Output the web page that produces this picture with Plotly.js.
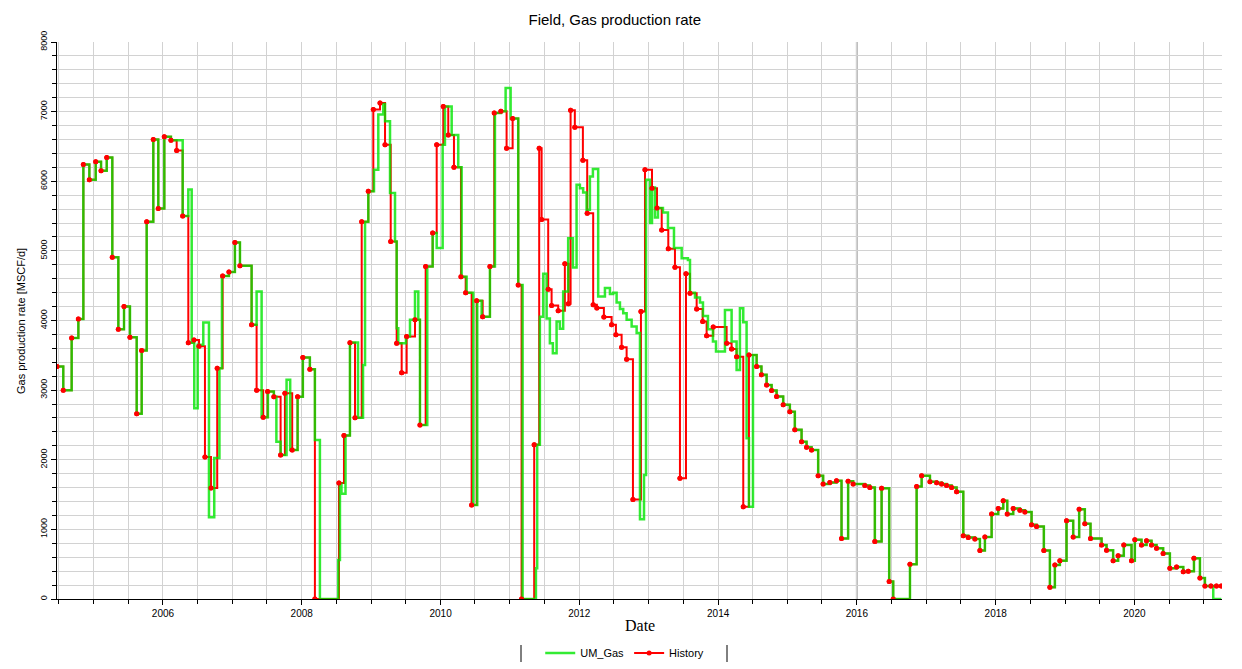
<!DOCTYPE html>
<html>
<head>
<meta charset="utf-8">
<script src="https://cdn.plot.ly/plotly-3.0.1.min.js"></script>
<style>
  html, body { margin: 0; padding: 0; background: #ffffff; }
  #chart { width: 1242px; height: 669px; }
</style>
</head>
<body>
<div id="chart"></div>
<script>
// ---- History (observed) gas rate, step start times as decimal years ----
const histYear = [
  2004.473, 2004.563, 2004.684, 2004.780, 2004.852, 2004.938,
  2005.030, 2005.107, 2005.189, 2005.269, 2005.356, 2005.438, 2005.524, 2005.621, 2005.693, 2005.765, 2005.860, 2005.932,
  2006.019, 2006.115, 2006.197, 2006.284, 2006.365, 2006.447, 2006.519, 2006.605, 2006.692, 2006.782, 2006.860, 2006.951,
  2007.037, 2007.110, 2007.278, 2007.350, 2007.445, 2007.509, 2007.599, 2007.696, 2007.758, 2007.863, 2007.941,
  2008.017, 2008.118, 2008.190, 2008.536, 2008.608, 2008.694, 2008.767, 2008.863, 2008.958,
  2009.030, 2009.127, 2009.199, 2009.281, 2009.367, 2009.439, 2009.511, 2009.631, 2009.703, 2009.785, 2009.886, 2009.944,
  2010.039, 2010.111, 2010.193, 2010.294, 2010.362, 2010.448, 2010.520, 2010.607, 2010.712, 2010.774, 2010.870, 2010.952,
  2011.039, 2011.120, 2011.168, 2011.350, 2011.422, 2011.457, 2011.552, 2011.601, 2011.696, 2011.792, 2011.843, 2011.875, 2011.936,
  2012.052, 2012.114, 2012.200, 2012.253, 2012.354, 2012.465, 2012.527, 2012.609, 2012.681, 2012.772, 2012.887, 2012.945,
  2013.046, 2013.118, 2013.186, 2013.281, 2013.377, 2013.449, 2013.536, 2013.594, 2013.690, 2013.777, 2013.834, 2013.929,
  2014.122, 2014.194, 2014.266, 2014.362, 2014.444, 2014.555, 2014.624, 2014.699, 2014.771, 2014.843, 2014.938,
  2015.034, 2015.106, 2015.203, 2015.275, 2015.347, 2015.442, 2015.514, 2015.611, 2015.707, 2015.779, 2015.874, 2015.947,
  2016.115, 2016.187, 2016.259, 2016.356, 2016.465, 2016.523, 2016.764, 2016.860, 2016.932,
  2017.052, 2017.148, 2017.220, 2017.292, 2017.364, 2017.436, 2017.532, 2017.604, 2017.700, 2017.772, 2017.844, 2017.941,
  2018.036, 2018.108, 2018.166, 2018.252, 2018.349, 2018.421, 2018.517, 2018.589, 2018.694, 2018.781, 2018.853, 2018.925,
  2019.021, 2019.117, 2019.203, 2019.285, 2019.367, 2019.526, 2019.598, 2019.693, 2019.765, 2019.847, 2019.958,
  2020.006, 2020.102, 2020.174, 2020.246, 2020.318, 2020.413, 2020.510, 2020.606, 2020.702, 2020.774, 2020.856, 2020.942,
  2021.014, 2021.100, 2021.180, 2021.250
];
const histRate = [
  3340, 3000, 3750, 4020, 6240, 6020,
  6280, 6150, 6340, 4910, 3875, 4200, 3760, 2660, 3570, 5420, 6600, 5610,
  6640, 6590, 6440, 5500, 3680, 3720, 3630, 2040, 1595, 3315, 4640, 4695,
  5120, 4785, 3940, 3000, 2610, 2980, 2905, 2070, 2955, 2140, 2905,
  3470, 3300, 0, 1665, 2350, 3680, 2605, 5420, 5855,
  7030, 7125, 6525, 5135, 3675, 3250, 3770, 4010, 2500, 4775, 5255, 6525,
  7075, 6665, 6200, 4630, 4400, 1350, 4285, 4055, 4775, 6980, 7005, 6475,
  6900, 4510, 0, 2215, 6475, 5450, 4450, 4215, 4140, 4815, 4240, 7020, 6775,
  6300, 5540, 4225, 4180, 4050, 3940, 3795, 3615, 3445, 1430, 4130, 6165,
  5900, 5615, 5300, 5030, 4765, 1735, 4670, 4390, 4165, 3985, 3780, 3905,
  3675, 3590, 3480, 1325, 3505, 3340, 3220, 3075, 2995, 2910, 2790,
  2690, 2430, 2260, 2180, 2140, 1770, 1650, 1675, 1700, 870, 1690, 1650,
  1630, 1600, 825, 1590, 250, 0, 500, 1615, 1770,
  1685, 1670, 1650, 1630, 1600, 1540, 910, 885, 860, 695, 890, 1220,
  1300, 1410, 1220, 1300, 1275, 1250, 1065, 1040, 695, 170, 490, 550,
  1125, 890, 1290, 1080, 870, 775, 700, 550, 620, 775, 550,
  850, 775, 835, 775, 730, 655, 440, 460, 390, 400, 585, 300,
  185, 185, 185, 185
];

// ---- UM_Gas (simulated) gas rate ----
const simYear = [
  2004.473, 2004.563, 2004.684, 2004.780, 2004.852, 2004.938,
  2005.030, 2005.107, 2005.189, 2005.269, 2005.356, 2005.438, 2005.524, 2005.621, 2005.693, 2005.765, 2005.860, 2005.932,
  2006.019, 2006.115, 2006.284, 2006.365, 2006.414, 2006.451, 2006.500, 2006.581, 2006.663, 2006.739, 2006.814, 2006.850, 2006.951,
  2007.037, 2007.110, 2007.278, 2007.350, 2007.422, 2007.513, 2007.599, 2007.635, 2007.696, 2007.782, 2007.834, 2007.941,
  2008.017, 2008.118, 2008.190, 2008.262, 2008.526, 2008.550, 2008.572, 2008.630, 2008.694, 2008.810, 2008.882, 2008.911, 2008.958,
  2009.040, 2009.102, 2009.174, 2009.199, 2009.271, 2009.343, 2009.367, 2009.390, 2009.501, 2009.559, 2009.631, 2009.679, 2009.703, 2009.808, 2009.886, 2009.944,
  2010.030, 2010.063, 2010.160, 2010.255, 2010.304, 2010.376, 2010.471, 2010.529, 2010.592, 2010.712, 2010.784, 2010.870, 2010.938,
  2011.010, 2011.120, 2011.183, 2011.375, 2011.393, 2011.432, 2011.480, 2011.529, 2011.576, 2011.619, 2011.673, 2011.720, 2011.768, 2011.840, 2011.908, 2011.961,
  2012.009, 2012.056, 2012.105, 2012.153, 2012.196, 2012.272, 2012.369, 2012.441, 2012.488, 2012.537, 2012.585, 2012.632, 2012.681, 2012.753, 2012.825, 2012.873, 2012.931, 2012.960,
  2013.018, 2013.046, 2013.089, 2013.132, 2013.204, 2013.276, 2013.363, 2013.474, 2013.564, 2013.594, 2013.666, 2013.738, 2013.781, 2013.853, 2013.925, 2013.969,
  2014.098, 2014.194, 2014.266, 2014.314, 2014.362, 2014.410, 2014.444, 2014.502, 2014.555, 2014.624, 2014.699, 2014.771, 2014.843, 2014.938,
  2015.034, 2015.106, 2015.203, 2015.275, 2015.347, 2015.442, 2015.514, 2015.611, 2015.707, 2015.779, 2015.874, 2015.947,
  2016.115, 2016.187, 2016.259, 2016.356, 2016.465, 2016.523, 2016.764, 2016.860, 2016.932,
  2017.052, 2017.148, 2017.220, 2017.292, 2017.364, 2017.436, 2017.532, 2017.604, 2017.700, 2017.772, 2017.844, 2017.941,
  2018.036, 2018.108, 2018.166, 2018.252, 2018.349, 2018.421, 2018.517, 2018.589, 2018.694, 2018.781, 2018.853, 2018.925,
  2019.021, 2019.117, 2019.203, 2019.285, 2019.367, 2019.526, 2019.598, 2019.693, 2019.765, 2019.847, 2019.958,
  2020.006, 2020.102, 2020.174, 2020.246, 2020.318, 2020.413, 2020.510, 2020.606, 2020.702, 2020.774, 2020.856, 2020.942,
  2021.014, 2021.134, 2021.250
];
const simRate = [
  3340, 3000, 3750, 4020, 6240, 6020,
  6280, 6150, 6340, 4910, 3875, 4200, 3760, 2660, 3570, 5420, 6600, 5610,
  6640, 6590, 5500, 5880, 3680, 2740, 3650, 3970, 1175, 2025, 3315, 4640, 4695,
  5120, 4785, 3940, 4415, 2610, 2980, 2905, 2260, 2070, 3150, 2140, 2905,
  3470, 3300, 2285, 0, 560, 1660, 1510, 2350, 3685, 2605, 3360, 5420, 5855,
  6165, 6960, 7110, 6860, 5830, 5135, 3890, 3675, 3770, 4010, 4415, 4010, 2500, 4775, 5255, 5040,
  6525, 7075, 6665, 6200, 4630, 4400, 1350, 4285, 4055, 4775, 6980, 7005, 7340,
  6900, 4510, 0, 440, 2215, 4055, 4670, 4030, 3675, 3530, 3985, 3880, 4415, 5180, 4760, 5950,
  5900, 5840, 5590, 6070, 6175, 4345, 4465, 4380, 4400, 4260, 4165, 4105, 4010, 3915, 3820, 1145, 1780, 6020,
  5400, 5910, 5480, 5615, 5550, 5330, 5040, 4895, 4870, 4400, 4330, 4260, 4065, 3875, 3700, 3555,
  4150, 3700, 3290, 4175, 3975, 2310, 1325, 3505, 3340, 3220, 3075, 2995, 2910, 2790,
  2690, 2430, 2260, 2180, 2140, 1770, 1650, 1675, 1700, 870, 1690, 1650,
  1630, 1600, 825, 1590, 250, 0, 500, 1615, 1770,
  1685, 1670, 1650, 1630, 1600, 1540, 910, 885, 860, 695, 890, 1220,
  1300, 1410, 1220, 1300, 1275, 1250, 1065, 1040, 695, 170, 490, 550,
  1125, 890, 1290, 1080, 870, 775, 700, 550, 620, 775, 550,
  850, 775, 835, 775, 730, 655, 440, 460, 390, 400, 585, 300,
  185, 0, 0
];

const xStartYear = 2004.473;
const xEndYear = 2021.26;
const yMax = 8000;

function yearToDate(t) {
  const y = Math.floor(t);
  const a = Date.UTC(y, 0, 1), b = Date.UTC(y + 1, 0, 1);
  const d = new Date(a + (t - y) * (b - a));
  return d.toISOString().slice(0, 19).replace('T', ' ');
}

const histX = histYear.map(yearToDate);
const simX = simYear.map(yearToDate);

const FONT = 'Liberation Sans, Arial, sans-serif';

const traces = [
  {
    name: 'History', x: histX, y: histRate, type: 'scatter', mode: 'lines+markers',
    line: { shape: 'hv', color: 'rgb(255,0,0)', width: 2 },
    marker: { color: 'rgb(255,0,0)', size: 5 },
    legendrank: 2, hoverinfo: 'x+y'
  },
  {
    name: 'UM_Gas', x: simX, y: simRate, type: 'scatter', mode: 'lines',
    line: { shape: 'hv', color: 'rgba(0,230,0,0.8)', width: 2.5 },
    legendrank: 1, hoverinfo: 'x+y'
  },
  {
    name: 'History', x: histX, y: histRate, type: 'scatter', mode: 'markers',
    marker: { color: 'rgb(255,0,0)', size: 5 },
    showlegend: false, hoverinfo: 'skip'
  }
];

const L = 57, R = 1222, T = 42, B = 599;
const pw = R - L, ph = B - T;
const px = (x) => (x - L) / pw;
const py = (y) => (B - y) / ph;

const layout = {
  width: 1242, height: 669,
  margin: { l: L, r: 1242 - R, t: T, b: 669 - B },
  paper_bgcolor: '#ffffff', plot_bgcolor: '#ffffff',
  font: { family: FONT, color: '#000000' },
  title: {
    text: 'Field, Gas production rate',
    font: { family: FONT, size: 15, color: '#000000' },
    xref: 'container', x: 0.495, xanchor: 'center',
    yref: 'container', y: 1 - 20 / 669, yanchor: 'middle'
  },
  xaxis: {
    type: 'date',
    range: [yearToDate(xStartYear), yearToDate(xEndYear)],
    showline: true, linecolor: '#000000', linewidth: 1,
    ticks: 'outside', ticklen: 5, tickcolor: '#000000',
    dtick: 'M24', tick0: '2006-01-01', tickformat: '%Y',
    tickfont: { family: FONT, size: 10, color: '#000000' },
    showgrid: true, gridcolor: '#d2d2d2', gridwidth: 1,
    minor: { dtick: 'M6', showgrid: true, gridcolor: '#d2d2d2', ticks: 'outside', ticklen: 4, tickcolor: '#000000' },
    zeroline: false, fixedrange: true, automargin: false
  },
  yaxis: {
    range: [0, yMax],
    showline: true, linecolor: '#000000', linewidth: 1,
    ticks: 'outside', ticklen: 5, tickcolor: '#000000',
    dtick: 1000, tick0: 0, tickangle: -90,
    tickfont: { family: FONT, size: 9, color: '#000000' },
    showgrid: true, gridcolor: '#d2d2d2', gridwidth: 1,
    minor: { dtick: 200, showgrid: true, gridcolor: '#d2d2d2', ticks: 'outside', ticklen: 4, tickcolor: '#000000' },
    zeroline: false, fixedrange: true, automargin: false
  },
  showlegend: true,
  legend: {
    orientation: 'h', xref: 'container', x: 0.503, xanchor: 'center',
    yref: 'container', y: (669 - 653) / 669, yanchor: 'middle',
    font: { family: FONT, size: 11, color: '#000000' },
    bgcolor: 'rgba(0,0,0,0)', traceorder: 'normal'
  },
  annotations: [
    {
      text: 'Date', xref: 'paper', yref: 'paper', x: 0.5, y: py(625),
      xanchor: 'center', yanchor: 'middle', showarrow: false,
      font: { family: 'Liberation Serif, Times New Roman, serif', size: 16, color: '#000000' }
    },
    {
      text: 'Gas production rate [MSCF/d]', xref: 'paper', yref: 'paper', x: px(21), y: py(321),
      xanchor: 'center', yanchor: 'middle', textangle: -90, showarrow: false,
      font: { family: FONT, size: 11, color: '#000000' }
    }
  ],
  shapes: [
    { type: 'line', xref: 'x', yref: 'paper', x0: '2016-01-01', x1: '2016-01-01', y0: 0, y1: 1,
      line: { color: '#b4b4b4', width: 2 }, layer: 'below' },
    { type: 'line', xref: 'paper', yref: 'paper', x0: px(521), x1: px(521), y0: py(645), y1: py(662),
      line: { color: '#000000', width: 1 } },
    { type: 'line', xref: 'paper', yref: 'paper', x0: px(727), x1: px(727), y0: py(645), y1: py(662),
      line: { color: '#000000', width: 1 } }
  ]
};

Plotly.newPlot('chart', traces, layout, { displayModeBar: false, staticPlot: true });
</script>
</body>
</html>
